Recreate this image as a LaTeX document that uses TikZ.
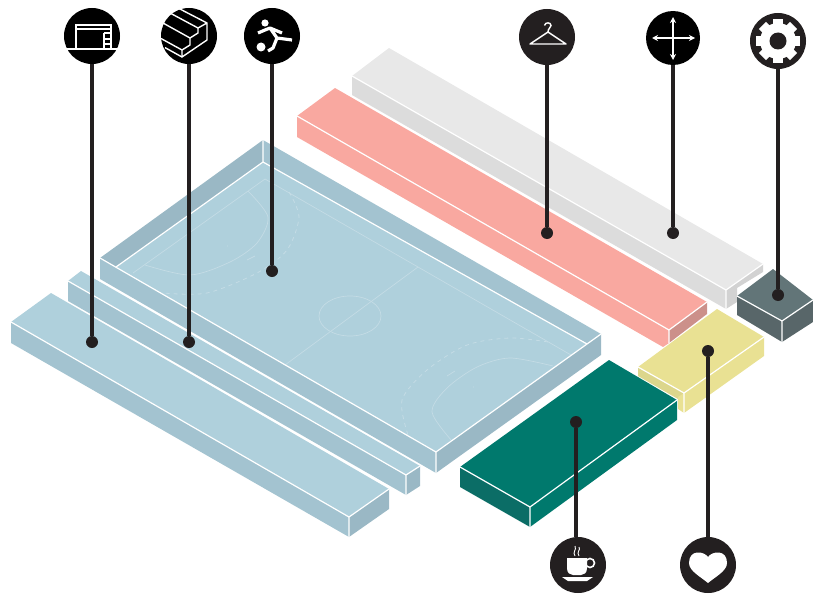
\documentclass[tikz,border=0pt]{standalone}
\usetikzlibrary{arrows.meta}
\definecolor{cTop}{HTML}{AFD0DC}\definecolor{cSide}{HTML}{A3C3D0}\definecolor{cDark}{HTML}{9AB8C5}
\definecolor{pTop}{HTML}{F9A8A0}\definecolor{pDark}{HTML}{CC908A}
\definecolor{gTop}{HTML}{E8E8E8}\definecolor{gSide}{HTML}{DCDCDC}\definecolor{gDark}{HTML}{D2D2D2}
\definecolor{sTop}{HTML}{627578}\definecolor{sSide}{HTML}{586669}
\definecolor{yTop}{HTML}{E9E193}\definecolor{ySide}{HTML}{DCD68C}
\definecolor{tTop}{HTML}{00796D}\definecolor{tSide}{HTML}{0B6D66}
\definecolor{ink}{HTML}{231F20}\definecolor{mark}{HTML}{C4DCE5}
\tikzset{
  edgeline/.style={draw=white,line width=1.2pt},
  courtline/.style={draw=mark,line width=0.7pt},
  courtdash/.style={draw=mark,line width=0.8pt,dash pattern=on 4pt off 4pt},
  iconbase/.style={circle,fill=black,minimum size=56pt,inner sep=0pt},
  leaddot/.style={circle,fill=ink,minimum size=12pt,inner sep=0pt},
  leadline/.style={draw=ink,line width=3.2pt},
  glyph/.style={draw=white,line width=1.4pt,fill=none},
}
\begin{document}
\begin{tikzpicture}[x=1pt,y=-1pt]
\useasboundingbox (0,0) rectangle (813,594);
% gray bar
\fill[gTop] (352,76)--(389,48)--(763,264)--(726,290)--cycle;
\fill[gSide] (352,76)--(726,290)--(726,309)--(352,95)--cycle;
\fill[gDark] (726,290)--(763,264)--(763,272)--(737,288)--(737,302)--(726,309)--cycle;
\draw[edgeline] (352,76)--(726,290)--(763,264) (726,290)--(726,309);
% pink bar
\fill[pTop] (297,116)--(335,88)--(707,302)--(669,330)--cycle;
\fill[pTop] (297,116)--(669,330)--(669,343)--(663,347)--(297,137)--cycle;
\fill[pDark] (669,330)--(707,302)--(707,314)--(669,343)--cycle;
\draw[edgeline] (297,116)--(669,330)--(707,302) (669,330)--(669,343);
% slate box
\fill[sTop] (737,296)--(773,269)--(813,300)--(782,321)--cycle;
\fill[sSide] (737,296)--(782,321)--(782,342)--(737,315)--cycle;
\fill[sSide] (782,321)--(813,300)--(813,322)--(782,342)--cycle;
\draw[edgeline] (737,296)--(782,321)--(813,300) (782,321)--(782,342);
% court
\fill[cTop] (116,267)--(263,162)--(587,344)--(436,452)--cycle;
\fill[cDark] (100,258)--(263,140)--(263,162)--(116,267)--cycle;
\fill[cSide] (263,140)--(601,334)--(587,344)--(263,162)--cycle;
\fill[cSide] (100,258)--(436,452)--(436,473)--(100,279)--cycle;
\fill[cDark] (436,452)--(601,334)--(601,355)--(436,473)--cycle;
\draw[courtline] (133,273)--(265,179)--(571,355) (418,267)--(285,365);
\draw[courtline] (350,316) ellipse [x radius=31,y radius=20];
\draw[courtline] plot[smooth] coordinates {(248,191) (268,217) (257,243) (230,262) (190,275) (145,265)};
\draw[courtdash] plot[smooth] coordinates {(289,192) (299,217) (287,250) (257,273) (207,293) (163,293)};
\draw[courtline] (247,260)--(255,256) (227,246)--(228,246);
\draw[courtline] plot[smooth] coordinates {(553,366) (510,358) (477,367) (447,388) (432,412) (452,441)};
\draw[courtdash] plot[smooth] coordinates {(548,342) (510,338) (467,345) (427,370) (402,400) (408,435)};
\draw[courtline] (447,376)--(455,371) (473,387)--(474,387);
\draw[edgeline] (263,140)--(263,162) (116,267)--(263,162)--(587,344) (100,258)--(436,452)--(601,334) (436,452)--(436,473);
% middle bench
\fill[cTop] (68,281)--(81,271)--(420,466)--(406,475)--cycle;
\fill[cSide] (68,281)--(406,475)--(406,495)--(68,301)--cycle;
\fill[cDark] (406,475)--(420,466)--(420,486)--(406,495)--cycle;
\draw[edgeline] (68,281)--(406,475)--(420,466) (406,475)--(406,495);
% big bench
\fill[cTop] (11,322)--(51,293)--(389,489)--(349,517)--cycle;
\fill[cSide] (11,322)--(349,517)--(349,537)--(11,343)--cycle;
\fill[cDark] (349,517)--(389,489)--(389,509)--(349,537)--cycle;
\draw[edgeline] (11,322)--(349,517)--(389,489) (349,517)--(349,537);
% yellow
\fill[yTop] (638,367)--(717,309)--(764,337)--(684,393)--cycle;
\fill[ySide] (638,367)--(684,393)--(678,399)--(638,376)--cycle;
\fill[yTop] (684,393)--(764,337)--(764,356)--(684,413)--(678,409)--(678,397)--cycle;
\draw[edgeline] (638,367)--(684,393)--(764,337) (684,393)--(684,413);
% teal
\fill[tTop] (460,467)--(609,360)--(677,400)--(530,507)--cycle;
\fill[tSide] (460,467)--(530,507)--(530,527)--(460,487)--cycle;
\fill[tTop] (530,507)--(677,400)--(677,420)--(530,527)--cycle;
\draw[edgeline] (460,467)--(530,507)--(677,400) (530,507)--(530,527);
% icon bases and dots
\node[iconbase] (i1) at (92,36) {};
\node[iconbase] (i2) at (189,36) {};
\node[iconbase] (i3) at (272,36) {};
\node[iconbase,fill=ink] (i4) at (547,37) {};
\node[iconbase,minimum size=54pt] (i5) at (673,38) {};
\node[iconbase,fill=ink] (i6) at (778,41) {};
\node[iconbase,fill=ink] (i7) at (578,565) {};
\node[iconbase,fill=ink] (i8) at (708,565) {};
\node[leaddot] (d1) at (92,342) {};
\node[leaddot] (d2) at (189,342) {};
\node[leaddot] (d3) at (272,271) {};
\node[leaddot] (d4) at (547,233) {};
\node[leaddot] (d5) at (673,233) {};
\node[leaddot] (d6) at (778,295) {};
\node[leaddot] (d7) at (576,422) {};
\node[leaddot] (d8) at (708,351) {};
\foreach \n in {1,...,6,8} \draw[leadline] (i\n) -- (d\n);
\draw[leadline] (d7) -- (d7 |- i7.north);
% icon 1
\draw[glyph] (65,49)--(118,49) (76,49)--(76,25)--(111,25)--(111,49) (76,29)--(111,29);
\draw[glyph] (104,33)--(104,49) (104,33)--(111,33) (104,39)--(111,39) (104,44)--(111,44);
% icon 2
\draw[glyph,line join=round] (178,8)--(207,23)--(207,40)--(182,57)--(182,50)--(190,45)--(190,38)--(198,33)--(198,28)--(207,23);
\draw[glyph] (170,13)--(198,28) (163,23)--(190,38) (161,38.5)--(182,50) (165,47.6)--(182,57);
% icon 3
\fill[white] (265,23) circle (3.6) (261,47) circle (4.5);
\draw[white,line width=3.2pt,line join=round] (258,33)--(265,30)--(270,28)--(282,33) (270,28)--(277,38)--(292,40) (277,38)--(273,48)--(268,51);
% hanger
\draw[glyph,line join=round] (548,32)--(566,44)--(530,44)--cycle;
\draw[glyph] (544.5,25.5) .. controls (545,22) and (551,22) .. (551,25.5) .. controls (551,28) and (548,28) .. (548,32);
% move
\draw[white,line width=1.3pt,{Stealth[length=6pt,width=6pt]}-{Stealth[length=6pt,width=6pt]}] (652,38)--(695,38);
\draw[white,line width=1.3pt,{Stealth[length=6pt,width=6pt]}-{Stealth[length=6pt,width=6pt]}] (673,17)--(673,60);
% gear
\fill[white] (778,41) circle (18);
\foreach \a in {0,45,...,315} \fill[white,rotate around={\a:(778,41)}] (773,41) rectangle (783,19);
\fill[ink] (778,41) circle (8.5);
% cup
\fill[white] (567,558)--(587,558)--(587,568) .. controls (587,573) and (584,575) .. (581,575)--(573,575) .. controls (570,575) and (567,573) .. (567,568)--cycle;
\draw[white,line width=1.6pt] (590,563) circle (4.5);
\fill[white] (562,577)--(593,577)--(587,581)--(568,581)--cycle;
\draw[white,line width=0.9pt] (575,556) .. controls (572,552) and (577,550) .. (575,546);
\draw[white,line width=0.9pt] (579,556) .. controls (576,552) and (581,550) .. (579,547);
% heart
\fill[white] (708,557) .. controls (712,551) and (727,549) .. (727,563) .. controls (727,571) and (715,577) .. (708,583) .. controls (701,577) and (689,571) .. (689,563) .. controls (689,549) and (704,551) .. (708,557) -- cycle;
\end{tikzpicture}
\end{document}
